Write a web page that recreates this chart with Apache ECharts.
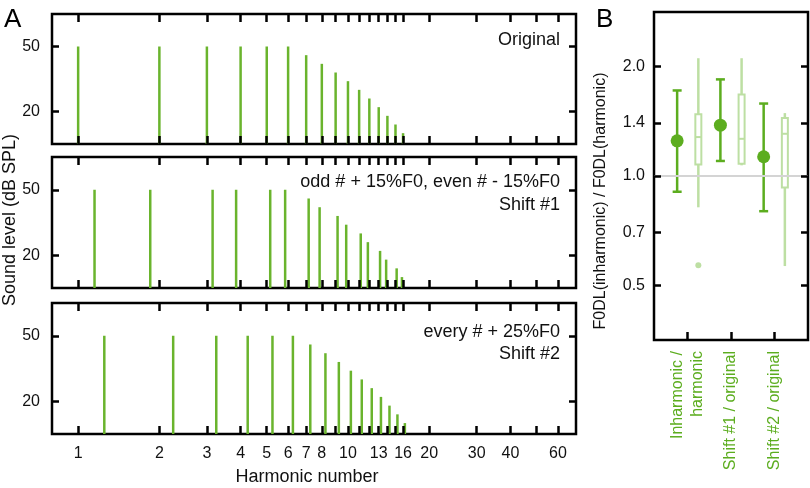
<!DOCTYPE html>
<html>
<head>
<meta charset="utf-8">
<script src="https://cdn.jsdelivr.net/npm/echarts@6/dist/echarts.min.js"></script>
<style>html,body{margin:0;padding:0;background:#fff}#c{width:810px;height:488px}</style>
</head>
<body>
<div id="c"></div>
<script>
// ---------- Panel A data ----------
const harmonicNumbers = [1, 2, 3, 4, 5, 6, 7, 8, 9, 10, 11, 12, 13, 14, 15, 16];
const soundLevels = [50, 50, 50, 50, 50, 50, 46, 42, 38, 34, 30, 26, 22, 18, 14, 10];
const shift1Numbers = [1.15, 1.85, 3.15, 3.85, 5.15, 5.85, 7.15, 7.85, 9.15, 9.85, 11.15, 11.85, 13.15, 13.85, 15.15, 15.85];
const shift2Numbers = [1.25, 2.25, 3.25, 4.25, 5.25, 6.25, 7.25, 8.25, 9.25, 10.25, 11.25, 12.25, 13.25, 14.25, 15.25, 16.25];
const xTickValues = [1, 2, 3, 4, 5, 6, 7, 8, 9, 10, 11, 12, 13, 14, 15, 16, 20, 30, 40, 50, 60];
const xTickLabels = [1, 2, 3, 4, 5, 6, 7, 8, 10, 13, 16, 20, 30, 40, 60];
const yTickLabels = [20, 50];
const panelTexts = [['Original'], ['odd # + 15%F0, even # - 15%F0', 'Shift #1'], ['every # + 25%F0', 'Shift #2']];

// ---------- Panel B data ----------
const ratioNames = ['Inharmonic /\nharmonic', 'Shift #1 / original', 'Shift #2 / original'];
const ratioGroups = [1, 2, 3];
const meanRatio = [1.25, 1.38, 1.13];
const ciLow = [0.905, 1.10, 0.80];
const ciHigh = [1.72, 1.845, 1.583];
const whiskerLow = [0.82, 1.07, 0.565];
const quartile1 = [1.075, 1.08, 0.93];
const medianRatio = [1.28, 1.266, 1.307];
const quartile3 = [1.48, 1.676, 1.445];
const whiskerHigh = [2.11, 2.11, 1.49];
const outlierGroups = [1];
const outlierValues = [0.568];
const ratioTicks = [0.5, 0.7, 1.0, 1.4, 2.0];
const referenceRatio = 1.0;

// ---------- styles ----------
const FONT = '"Liberation Sans", Arial, Helvetica, sans-serif';
const stemColor = '#6ab42d';
const darkGreen = '#5cad1f';
const lightGreen = '#bddfa3';
const levelFloor = 5, levelCeil = 65;

const chart = echarts.init(document.getElementById('c'), null, {renderer: 'canvas'});

const gridsA = [
  {left: 52, top: 14, width: 524, height: 130},
  {left: 52, top: 157, width: 524, height: 131},
  {left: 52, top: 303, width: 524, height: 131}
];
const grids = gridsA.concat([{left: 654, top: 12, width: 154, height: 328}]).map(g => Object.assign({
  show: true, borderColor: '#000', borderWidth: 2.5, backgroundColor: 'transparent', containLabel: false
}, g));

const xAxes = [], yAxes = [];
gridsA.forEach((g, i) => {
  const base = {
    type: 'log', logBase: 10, min: 0.8, max: 70, gridIndex: i, z: 10,
    axisLine: {show: false}, splitLine: {show: false},
    axisTick: {show: true, inside: true, length: 8, customValues: xTickValues, lineStyle: {color: '#000', width: 2.5}},
  };
  xAxes.push(Object.assign({}, base, {
    position: 'bottom',
    axisLabel: i === 2 ? {show: true, customValues: xTickLabels, margin: 12, color: '#111', fontSize: 16, fontFamily: FONT,
      formatter: v => String(Math.round(v))} : {show: false}
  }));
  xAxes.push(Object.assign({}, base, {position: 'top', axisLabel: {show: false}}));
  const ybase = {
    type: 'value', min: levelFloor, max: levelCeil, gridIndex: i, z: 10,
    axisLine: {show: false}, splitLine: {show: false},
    axisTick: {show: true, inside: true, length: 7, customValues: yTickLabels, lineStyle: {color: '#000', width: 2.5}}
  };
  yAxes.push(Object.assign({}, ybase, {position: 'left',
    axisLabel: {show: true, customValues: yTickLabels, margin: 12, color: '#111', fontSize: 16, fontFamily: FONT}}));
  yAxes.push(Object.assign({}, ybase, {position: 'right', axisLabel: {show: false}}));
});
// Panel B axes
xAxes.push({
  type: 'value', min: 0.22, max: 3.78, gridIndex: 3, position: 'bottom', z: 10,
  axisLine: {show: false}, splitLine: {show: false},
  axisTick: {show: true, inside: true, length: 8, customValues: ratioGroups, lineStyle: {color: '#000', width: 2.5}},
  axisLabel: {show: true, customValues: ratioGroups, rotate: 90, margin: 11, color: darkGreen, fontSize: 16,
    fontFamily: FONT, lineHeight: 20, formatter: v => ratioNames[ratioGroups.indexOf(Math.round(v))]}
});
xAxes.push({
  type: 'value', min: 0.22, max: 3.78, gridIndex: 3, position: 'top',
  axisLine: {show: false}, splitLine: {show: false}, axisTick: {show: false}, axisLabel: {show: false}
});
const ybB = {
  type: 'log', logBase: 10, min: Math.pow(2, -1.5), max: Math.pow(2, 1.5), gridIndex: 3, z: 10,
  axisLine: {show: false}, splitLine: {show: false},
  axisTick: {show: true, inside: true, length: 7, customValues: ratioTicks, lineStyle: {color: '#000', width: 2.5}}
};
yAxes.push(Object.assign({}, ybB, {position: 'left',
  axisLabel: {show: true, customValues: ratioTicks, margin: 9, color: '#111', fontSize: 16, fontFamily: FONT,
    formatter: v => Number(v).toFixed(1)}}));
yAxes.push(Object.assign({}, ybB, {position: 'right', axisLabel: {show: false}}));

function stemRender(params, api) {
  const x = api.value(0);
  const top = api.coord([x, api.value(1)]);
  const base = api.coord([x, levelFloor]);
  return {type: 'line', shape: {x1: top[0], y1: top[1], x2: base[0], y2: base[1]},
    style: {stroke: stemColor, lineWidth: 2.5}};
}
const stemSets = [harmonicNumbers, shift1Numbers, shift2Numbers];
const series = stemSets.map((xs, i) => ({
  type: 'custom', xAxisIndex: 2 * i, yAxisIndex: 2 * i, renderItem: stemRender, silent: true,
  encode: {x: 0, y: 1},
  data: xs.map((x, k) => [x, soundLevels[k]])
}));

const darkOffset = -0.245, lightOffset = 0.245;
// reference line
series.push({
  type: 'line', xAxisIndex: 6, yAxisIndex: 6, data: [], z: 1, silent: true,
  markLine: {silent: true, symbol: 'none', label: {show: false}, animation: false,
    lineStyle: {color: '#d4d4d4', width: 2, type: 'solid'}, data: [{yAxis: referenceRatio}]}
});
// light boxes
series.push({
  type: 'custom', xAxisIndex: 6, yAxisIndex: 6, silent: true, z: 3,
  encode: {x: 0, y: [1, 2, 3, 4, 5]},
  data: ratioGroups.map((g, i) => [g, whiskerLow[i], quartile1[i], medianRatio[i], quartile3[i], whiskerHigh[i]]),
  renderItem(params, api) {
    const g = api.value(0) + lightOffset;
    const wl = api.coord([g, api.value(1)]);
    const q1 = api.coord([g, api.value(2)]);
    const md = api.coord([g, api.value(3)]);
    const q3 = api.coord([g, api.value(4)]);
    const wh = api.coord([g, api.value(5)]);
    const hw = 3;
    const ls = {stroke: lightGreen, lineWidth: 2.5};
    return {type: 'group', children: [
      {type: 'line', shape: {x1: wl[0], y1: wl[1], x2: wh[0], y2: wh[1]}, style: ls},
      {type: 'rect', shape: {x: q3[0] - hw, y: q3[1], width: 2 * hw, height: q1[1] - q3[1]},
        style: {fill: '#fff', stroke: lightGreen, lineWidth: 2}},
      {type: 'line', shape: {x1: md[0] - hw, y1: md[1], x2: md[0] + hw, y2: md[1]}, style: {stroke: lightGreen, lineWidth: 2}}
    ]};
  }
});
// outliers
series.push({
  type: 'custom', xAxisIndex: 6, yAxisIndex: 6, silent: true, z: 3,
  encode: {x: 0, y: 1},
  data: outlierGroups.map((g, i) => [g, outlierValues[i]]),
  renderItem(params, api) {
    const p = api.coord([api.value(0) + lightOffset, api.value(1)]);
    return {type: 'circle', shape: {cx: p[0], cy: p[1], r: 3}, style: {fill: lightGreen}};
  }
});
// dark means with error bars
series.push({
  type: 'custom', xAxisIndex: 6, yAxisIndex: 6, silent: true, z: 4,
  encode: {x: 0, y: [1, 2, 3]},
  data: ratioGroups.map((g, i) => [g, meanRatio[i], ciLow[i], ciHigh[i]]),
  renderItem(params, api) {
    const g = api.value(0) + darkOffset;
    const pm = api.coord([g, api.value(1)]);
    const pl = api.coord([g, api.value(2)]);
    const ph = api.coord([g, api.value(3)]);
    const cap = 4.5;
    const ls = {stroke: darkGreen, lineWidth: 2.5};
    return {type: 'group', children: [
      {type: 'line', shape: {x1: pl[0], y1: pl[1], x2: ph[0], y2: ph[1]}, style: ls},
      {type: 'line', shape: {x1: ph[0] - cap, y1: ph[1], x2: ph[0] + cap, y2: ph[1]}, style: ls},
      {type: 'line', shape: {x1: pl[0] - cap, y1: pl[1], x2: pl[0] + cap, y2: pl[1]}, style: ls},
      {type: 'circle', shape: {cx: pm[0], cy: pm[1], r: 6.5}, style: {fill: darkGreen}}
    ]};
  }
});

const graphics = [
  {type: 'text', x: 4, y: 7, style: {text: 'A', fontSize: 26, fontFamily: FONT, fill: '#000'}},
  {type: 'text', x: 596, y: 7, style: {text: 'B', fontSize: 26, fontFamily: FONT, fill: '#000'}},
  {type: 'text', x: 10, y: 220, rotation: Math.PI / 2,
    style: {text: 'Sound level (dB SPL)', fontSize: 18, fontFamily: FONT, fill: '#111', align: 'center', verticalAlign: 'middle'}},
  {type: 'text', x: 601, y: 201, rotation: Math.PI / 2,
    style: {text: 'F0DL(inharmonic) / F0DL(harmonic)', fontSize: 16, fontFamily: FONT, fill: '#111', align: 'center', verticalAlign: 'middle'}},
  {type: 'text', x: 307, y: 477,
    style: {text: 'Harmonic number', fontSize: 18, fontFamily: FONT, fill: '#111', align: 'center', verticalAlign: 'middle'}}
];
const textTops = [[40], [182, 205], [332, 354]];
panelTexts.forEach((lines, i) => lines.forEach((t, k) => {
  graphics.push({type: 'text', x: 560, y: textTops[i][k],
    style: {text: t, fontSize: 18, fontFamily: FONT, fill: '#111', align: 'right', verticalAlign: 'middle'}});
}));

chart.setOption({
  animation: false,
  backgroundColor: '#fff',
  grid: grids,
  xAxis: xAxes,
  yAxis: yAxes,
  series: series,
  graphic: graphics
});
</script>
</body>
</html>
